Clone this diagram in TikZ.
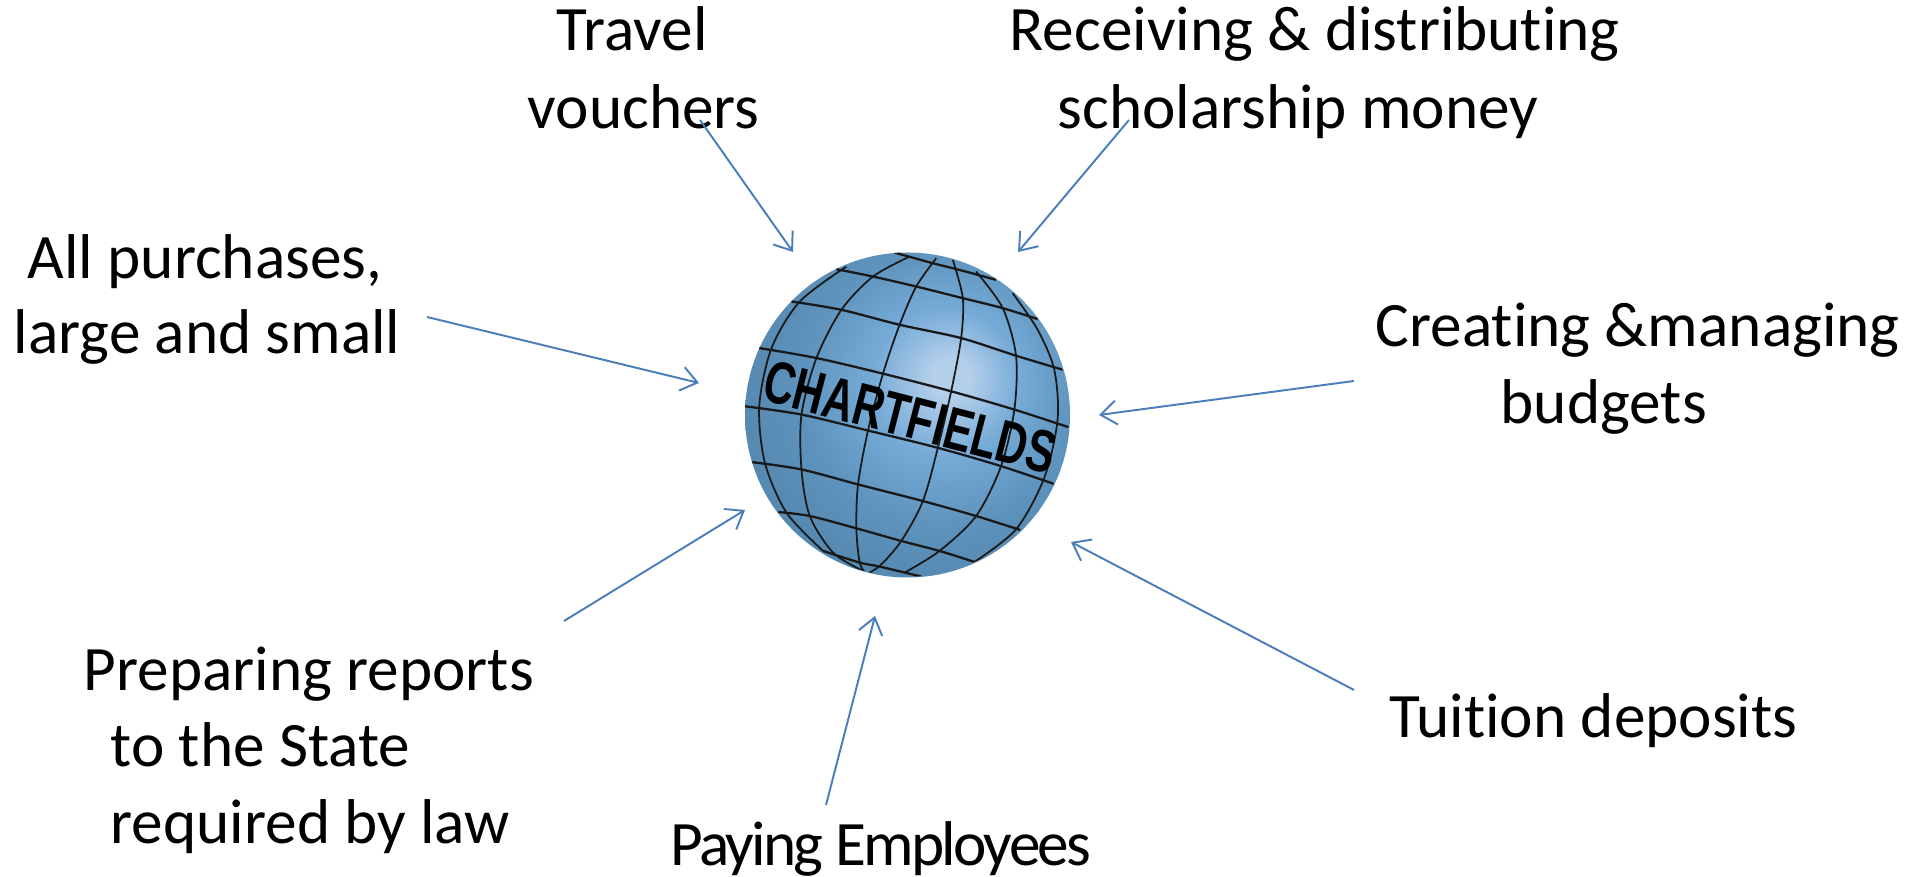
\documentclass[tikz,border=0pt]{standalone}
\usepackage{fontspec}
\setmainfont{Carlito}[Ligatures=NoCommon]
\newfontfamily\globefont{Liberation Sans}[BoldFont={Liberation Sans Bold}]
\usetikzlibrary{arrows.meta}
\definecolor{arrowblue}{HTML}{4A7EBB}
\definecolor{lightspot}{HTML}{B4CFEA}
\definecolor{midspot}{HTML}{78ACD8}
\definecolor{bodyblue}{HTML}{5D93BD}
\definecolor{rimblue}{HTML}{4A7699}
\pgfdeclareradialshading{globeshade}{\pgfpoint{7bp}{6bp}}{%
  color(0bp)=(lightspot);
  color(3bp)=(lightspot);
  color(11bp)=(midspot);
  color(21bp)=(bodyblue);
  color(46bp)=(rimblue);
  color(70bp)=(rimblue)}
\tikzset{
    mylabel/.style = {anchor=base west,inner sep=0pt,font=\fontsize{18}{22}\selectfont,text=black},
    myglobe/.style = {circle,minimum size=3.25cm,inner sep=0pt,shading=globeshade},
    edgea/.style = {-{Straight Barb[length=1.6mm,width=2.4mm]},line width=0.55pt,arrowblue},
    gridl/.style = {line width=0.65pt,black!90},
    gridm/.style = {line width=0.5pt,black!90},
}
\begin{document}
\begin{tikzpicture}
\node[myglobe] at (9.075,4.61) (globe) {};
%
\begin{scope}[shift={(7.2,6.46)},x=0.003333cm,y=-0.003333cm]
\clip (562.5,555) circle [radius=487.5];
\draw[gridl] plot[smooth] coordinates {(525,68) (640,100) (720,120) (830,150)};
\draw[gridl] plot[smooth] coordinates {(350,118) (460,140) (590,170) (730,205) (850,235) (955,268)};
\draw[gridl] plot[smooth] coordinates {(215,215) (365,240) (540,285) (725,325) (890,378) (1030,420)};
\draw[gridl] plot[smooth] coordinates {(118,355) (290,385) (490,432) (695,485) (885,540) (1048,593)};
\draw[gridl] plot[smooth] coordinates {(75,530) (245,555) (445,603) (655,655) (845,710) (1003,763)};
\draw[gridl] plot[smooth] coordinates {(97,698) (245,720) (415,765) (610,815) (770,860) (903,902)};
\draw[gridl] plot[smooth] coordinates {(175,848) (270,860) (410,897) (545,935) (660,965) (765,998)};
\draw[gridl] plot[smooth] coordinates {(310,965) (420,1000) (480,1012) (605,1042)};
%
\draw[gridm] plot[smooth] coordinates {(380,110) (240,215) (155,355) (118,530) (135,700) (200,850) (310,965)};
\draw[gridm] plot[smooth] coordinates {(570,80) (460,140) (365,240) (290,385) (245,555) (245,720) (270,860) (340,970) (430,1025)};
\draw[gridm] plot[smooth] coordinates {(650,85) (590,170) (540,285) (490,432) (445,603) (415,765) (410,897) (420,1000) (440,1035)};
\draw[gridm] plot[smooth] coordinates {(700,90) (730,205) (725,325) (695,485) (655,655) (610,815) (545,935) (480,1010) (430,1040)};
\draw[gridm] plot[smooth] coordinates {(770,125) (850,235) (890,378) (885,540) (845,710) (770,860) (660,965) (555,1030)};
\draw[gridm] plot[smooth] coordinates {(880,190) (955,300) (1005,420) (1015,570) (975,745) (890,900) (765,998)};
\node[font=\globefont\bfseries\fontsize{17}{19}\selectfont,transform shape,rotate=-14.5,xscale=.71,inner sep=0pt] at (572,563) (title) {CHARTFIELDS};
\end{scope}
%
\node[mylabel] at (5.56,8.25) (travel) {Travel};
\node[mylabel] at (5.27,7.47) (vouchers) {vouchers};
\node[mylabel] at (10.09,8.25) (receiving) {Receiving \& distributing};
\node[mylabel] at (10.57,7.47) (scholarship) {scholarship money};
\node[mylabel] at (0.27,5.97) (purchases) {All purchases,};
\node[mylabel] at (0.13,5.22) (large) {large and small};
\node[mylabel] at (13.75,5.29) (creating) {Creating \&managing};
\node[mylabel] at (15.00,4.52) (budgets) {budgets};
\node[mylabel] at (13.89,1.38) (tuition) {Tuition deposits};
\node[mylabel] at (0.83,1.85) (preparing) {Preparing reports};
\node[mylabel] at (1.10,1.09) (state) {to the State};
\node[mylabel] at (1.10,0.32) (law) {required by law};
\node[mylabel] at (6.70,0.10) (paying) {\addfontfeature{LetterSpace=-4.3}Paying Employees};
%
\coordinate (fromtravel) at (7.00,7.56);
\coordinate (totravel) at (7.93,6.24);
\coordinate (fromreceiving) at (11.29,7.56);
\coordinate (toreceiving) at (10.18,6.24);
\coordinate (frompurchases) at (4.27,5.59);
\coordinate (topurchases) at (6.99,4.93);
\coordinate (fromcreating) at (13.54,4.95);
\coordinate (tocreating) at (10.99,4.61);
\coordinate (fromtuition) at (13.54,1.86);
\coordinate (totuition) at (10.71,3.34);
\coordinate (frompreparing) at (5.64,2.55);
\coordinate (topreparing) at (7.45,3.66);
\coordinate (frompaying) at (8.26,0.71);
\coordinate (topaying) at (8.75,2.60);
%
\draw[edgea] (fromtravel) -- (totravel);
\draw[edgea] (fromreceiving) -- (toreceiving);
\draw[edgea] (frompurchases) -- (topurchases);
\draw[edgea] (fromcreating) -- (tocreating);
\draw[edgea] (fromtuition) -- (totuition);
\draw[edgea] (frompreparing) -- (topreparing);
\draw[edgea] (frompaying) -- (topaying);

\path[use as bounding box] (0,0) rectangle (19.13,8.76);
\end{tikzpicture}
\end{document}
